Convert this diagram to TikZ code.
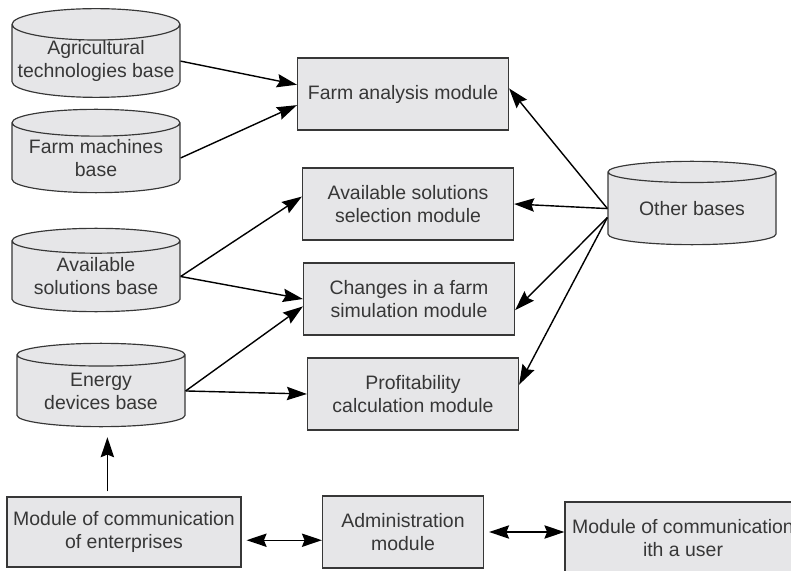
\documentclass[tikz,border=0pt]{standalone}
\usepackage{fontspec}
\setmainfont{Liberation Sans}
\usetikzlibrary{shapes.geometric,arrows.meta}
\definecolor{boxfill}{RGB}{230,230,232}
\definecolor{inkgray}{RGB}{55,55,55}

\begin{document}
\begin{tikzpicture}[x=0.03cm, y=-0.03cm,
  every node/.style = {font=\fontsize{16.6}{19.6}\selectfont, text=inkgray, align=center, inner sep=0pt},
  database/.style = {cylinder, shape border rotate=90, aspect=0.2, draw=inkgray, fill=boxfill,
                     line width=1pt, minimum width=5.04cm, minimum height=2.5cm, anchor=shape center},
  modulebox/.style = {rectangle, draw=inkgray, fill=boxfill, line width=1pt,
                      minimum width=6.33cm, minimum height=2.16cm},
  tip/.tip = {Stealth[length=0.6cm, width=0.4cm, inset=0.08cm]},
  arr/.style = {-tip, line width=1.2pt},
  dbl/.style = {tip-tip, line width=1.2pt},
  ]
  \useasboundingbox (0,0) rectangle (791,571);
  \clip (0,0) rectangle (791,571);

  % bases
  \node[database] (agri) at (96,53) {Agricultural\\technologies base};
  \node[database] (machines) at (96,151) {Farm machines\\base};
  \node[database] (availbase) at (96,270) {Available\\solutions base};
  \node[database] (energy) at (101,385) {Energy\\devices base};
  \node[database] (other) at (692,203) {Other bases};

  % modules
  \node[modulebox] (analysis) at (403,94) {Farm analysis module};
  \node[modulebox] (selection) at (408,204) {Available solutions\\selection module};
  \node[modulebox] (changes) at (409,299) {Changes in a farm\\simulation module};
  \node[modulebox] (profit) at (413,394) {Profitability\\calculation module};
  \node[modulebox, minimum width=7.02cm, minimum height=2.1cm] (enterprises) at (124,532) {Module of communication\\of enterprises};
  \node[modulebox, minimum width=4.83cm] (admin) at (403,532) {Administration\\module};
  \node[modulebox, minimum width=7.08cm] (user) at (683,538) {Module of communication\\ith a user};

  % links
  \draw[arr] (agri.east) -- (analysis.175);
  \draw[arr] (machines.east) -- (analysis.186);
  \draw[arr] (availbase.east) -- (selection.176);
  \draw[arr] (availbase.east) -- (changes.west);
  \draw[arr] (energy.east) -- (changes.184);
  \draw[arr] (energy.east) -- (profit.west);
  \draw[arr] (other.west) -- (analysis.3);
  \draw[arr] (other.west) -- (selection.east);
  \draw[arr] (other.186) -- (changes.354);
  \draw[arr] (other.186) -- (profit.5);
  \draw[arr, shorten <=0.15cm, shorten >=0.3cm] (enterprises.north -| energy.-80) -- (energy.-80);
  \draw[dbl, shorten <=0.15cm] (enterprises.356) -- (admin.west |- enterprises.356);
  \draw[dbl, shorten <=0.15cm] (admin.east) -- (admin.east -| user.west);
\end{tikzpicture}
\end{document}
